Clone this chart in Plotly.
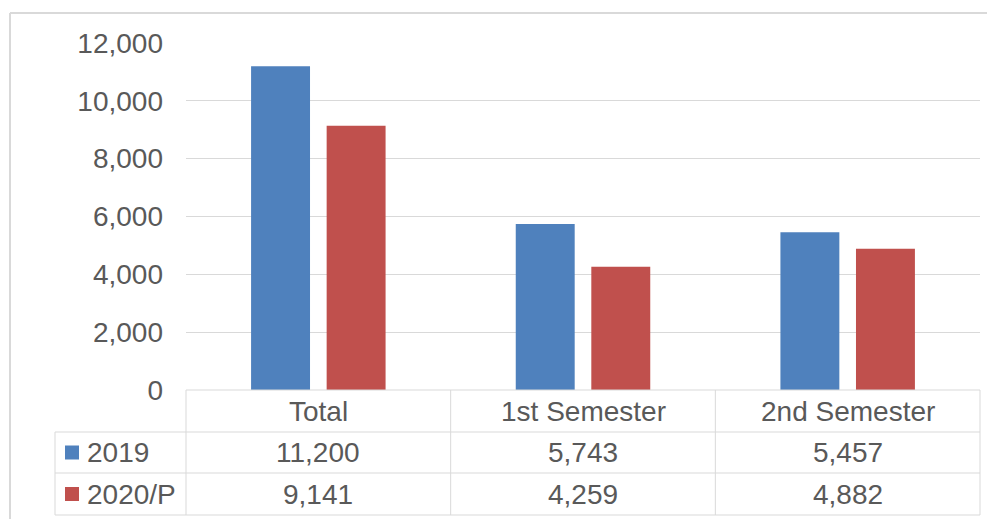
import plotly.graph_objects as go

categories = ["Total", "1st Semester", "2nd Semester"]
series_names = ["2019", "2020/P"]
values_2019 = [11200, 5743, 5457]
values_2020 = [9141, 4259, 4882]
colors = ["#4F81BD", "#C0504D"]
y_ticks = [0, 2000, 4000, 6000, 8000, 10000, 12000]
y_ticklabels = ["0", "2,000", "4,000", "6,000", "8,000", "10,000", "12,000"]

OFF = 8  # page body margin
W, H = 995 - OFF, 519 - OFF
L, R, T, B = 186, 980, 43, 390  # plot area in target-page pixels
FONT = "Liberation Sans, Arial, sans-serif"
TXT = "#595959"
GRID = "#D9D9D9"
FS = 28


def px(x):
    return (x - L) / (R - L)


def py(y):
    return (B - y) / (B - T)


fig = go.Figure()
for name, vals, col in zip(series_names, [values_2019, values_2020], colors):
    fig.add_trace(go.Bar(x=categories, y=vals, name=name, marker_color=col,
                         marker_line_width=0, showlegend=False))

shapes = []
annotations = []

# outer chart border (left + top)
shapes.append(dict(type="line", xref="paper", yref="paper", x0=px(10), x1=px(1010),
                   y0=py(13), y1=py(13), line=dict(color=GRID, width=2)))
shapes.append(dict(type="line", xref="paper", yref="paper", x0=px(10), x1=px(10),
                   y0=py(13), y1=py(530), line=dict(color=GRID, width=2)))

# data table lines
row_lines = [390, 432, 473, 515]
for i, yy in enumerate(row_lines):
    x0 = L if i == 0 else 55
    shapes.append(dict(type="line", xref="paper", yref="paper", x0=px(x0), x1=px(R),
                       y0=py(yy), y1=py(yy), line=dict(color=GRID, width=1)))
col_edges = [L, L + (R - L) / 3, L + 2 * (R - L) / 3, R]
for xx in col_edges:
    shapes.append(dict(type="line", xref="paper", yref="paper", x0=px(xx), x1=px(xx),
                       y0=py(390), y1=py(515), line=dict(color=GRID, width=1)))
shapes.append(dict(type="line", xref="paper", yref="paper", x0=px(55), x1=px(55),
                   y0=py(432), y1=py(515), line=dict(color=GRID, width=1)))

# header row (categories)
for c in categories:
    annotations.append(dict(x=c, y=py(411), xref="x", yref="paper", text=c,
                            showarrow=False, font=dict(family=FONT, size=FS, color=TXT),
                            xanchor="center", yanchor="middle"))

# value rows
row_centers = [452.5, 494]
for name, vals, col, yc in zip(series_names, [values_2019, values_2020], colors, row_centers):
    shapes.append(dict(type="rect", xref="paper", yref="paper", x0=px(65), x1=px(79),
                       y0=py(yc - 7), y1=py(yc + 7), fillcolor=col, line=dict(width=0)))
    annotations.append(dict(x=px(85), y=py(yc), xref="paper", yref="paper", text=name,
                            showarrow=False, font=dict(family=FONT, size=FS, color=TXT),
                            xanchor="left", yanchor="middle"))
    for c, v in zip(categories, vals):
        annotations.append(dict(x=c, y=py(yc), xref="x", yref="paper", text=f"{v:,}",
                                showarrow=False, font=dict(family=FONT, size=FS, color=TXT),
                                xanchor="center", yanchor="middle"))

fig.update_layout(
    width=W, height=H,
    margin=dict(l=L - OFF, r=W - (R - OFF), t=T - OFF, b=H - (B - OFF), pad=0),
    paper_bgcolor="white", plot_bgcolor="white",
    barmode="group", bargap=0.429, bargroupgap=0.22,
    shapes=shapes, annotations=annotations,
    xaxis=dict(showticklabels=False, showgrid=False, zeroline=False, showline=False,
               range=[-0.5, 2.5], fixedrange=True),
    yaxis=dict(range=[0, 12000], tickvals=y_ticks, ticktext=y_ticklabels,
               showgrid=True, gridcolor=GRID, gridwidth=1, zeroline=False,
               showline=False, ticks="", ticklabelstandoff=22,
               tickfont=dict(family=FONT, size=FS, color=TXT), fixedrange=True),
)

fig.write_html("out.html", config={"displayModeBar": False})
